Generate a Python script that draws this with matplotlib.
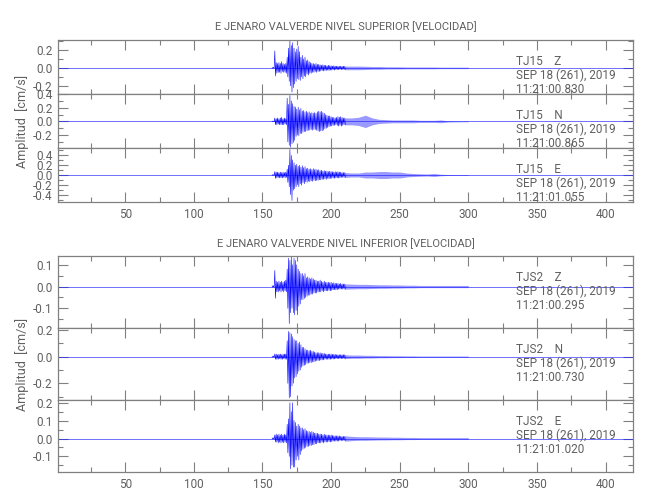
import numpy as np
import matplotlib
matplotlib.use("Agg")
import matplotlib.pyplot as plt
from matplotlib.ticker import MultipleLocator, FormatStrFormatter

plt.rcParams['font.family'] = ['Roboto', 'DejaVu Sans']
plt.rcParams['axes.unicode_minus'] = False

# time axis of the records (s)
t_fine = np.arange(157, 211)          # 1 s steps, strong motion part
t_coda = np.arange(210, 301, 5)       # 5 s steps, coda envelope
x_min, x_max = 1, 420

titles = ['E JENARO VALVERDE NIVEL SUPERIOR [VELOCIDAD]',
          'E JENARO VALVERDE NIVEL INFERIOR [VELOCIDAD]']
stations = ['TJ15', 'TJS2']
components = ['Z', 'N', 'E']
date_txt = 'SEP 18 (261), 2019'
start_times = [['11:21:00.830', '11:21:00.865', '11:21:01.055'],
               ['11:21:00.295', '11:21:00.730', '11:21:01.020']]

# ---- TJ15 (nivel superior), peak values per second (cm/s) ----
tj15_z_up = [0.005, 0.006, 0.19, 0.06, 0.05, 0.06, 0.05, 0.07, 0.05, 0.04,
             0.05, 0.12, 0.22, 0.30, 0.25, 0.28, 0.22, 0.18, 0.21, 0.24,
             0.18, 0.12, 0.14, 0.10, 0.12, 0.08, 0.09, 0.07, 0.06, 0.05,
             0.05, 0.04, 0.05, 0.04, 0.04, 0.035, 0.03, 0.035, 0.03, 0.03,
             0.025, 0.03, 0.025, 0.025, 0.02, 0.025, 0.02, 0.02, 0.02, 0.018,
             0.02, 0.018, 0.02, 0.018]
tj15_z_lo = [-0.005, -0.006, -0.09, -0.06, -0.05, -0.05, -0.06, -0.04, -0.05, -0.05,
             -0.06, -0.10, -0.15, -0.20, -0.27, -0.22, -0.18, -0.15, -0.12, -0.13,
             -0.14, -0.10, -0.12, -0.09, -0.10, -0.07, -0.08, -0.06, -0.06, -0.05,
             -0.05, -0.04, -0.05, -0.04, -0.04, -0.035, -0.03, -0.035, -0.03, -0.03,
             -0.025, -0.03, -0.025, -0.025, -0.02, -0.025, -0.02, -0.02, -0.02, -0.018,
             -0.02, -0.018, -0.02, -0.018]
tj15_z_coda = [0.02, 0.02, 0.02, 0.018, 0.015, 0.015, 0.012, 0.012, 0.012, 0.01,
               0.01, 0.01, 0.01, 0.01, 0.008, 0.008, 0.008, 0.008, 0.008]

tj15_n_up = [0.005, 0.005, 0.05, 0.04, 0.05, 0.04, 0.05, 0.06, 0.04, 0.05,
             0.04, 0.34, 0.25, 0.38, 0.30, 0.26, 0.22, 0.21, 0.18, 0.21,
             0.17, 0.19, 0.15, 0.16, 0.14, 0.15, 0.13, 0.14, 0.12, 0.13,
             0.12, 0.13, 0.12, 0.14, 0.15, 0.14, 0.15, 0.13, 0.12, 0.10,
             0.09, 0.08, 0.08, 0.07, 0.06, 0.06, 0.05, 0.06, 0.07, 0.06,
             0.07, 0.06, 0.05, 0.05]
tj15_n_lo = [-0.005, -0.005, -0.05, -0.05, -0.04, -0.05, -0.05, -0.05, -0.05, -0.04,
             -0.05, -0.30, -0.35, -0.38, -0.33, -0.31, -0.28, -0.22, -0.20, -0.21,
             -0.18, -0.18, -0.16, -0.15, -0.15, -0.14, -0.13, -0.13, -0.12, -0.13,
             -0.12, -0.12, -0.13, -0.14, -0.15, -0.14, -0.14, -0.13, -0.11, -0.10,
             -0.09, -0.08, -0.07, -0.07, -0.06, -0.06, -0.05, -0.06, -0.07, -0.06,
             -0.07, -0.06, -0.05, -0.05]
tj15_n_coda = [0.05, 0.05, 0.06, 0.09, 0.05, 0.03, 0.025, 0.02, 0.02, 0.02,
               0.02, 0.015, 0.015, 0.015, 0.02, 0.01, 0.008, 0.006, 0.006]

tj15_e_up = [0.008, 0.008, 0.07, 0.06, 0.06, 0.05, 0.06, 0.05, 0.06, 0.05,
             0.06, 0.12, 0.20, 0.52, 0.40, 0.31, 0.25, 0.20, 0.22, 0.18,
             0.20, 0.16, 0.19, 0.15, 0.17, 0.13, 0.14, 0.12, 0.13, 0.11,
             0.13, 0.11, 0.12, 0.10, 0.11, 0.09, 0.10, 0.08, 0.09, 0.08,
             0.08, 0.07, 0.08, 0.07, 0.07, 0.06, 0.07, 0.06, 0.07, 0.06,
             0.06, 0.05, 0.05, 0.05]
tj15_e_lo = [-0.008, -0.008, -0.07, -0.06, -0.05, -0.06, -0.06, -0.06, -0.05, -0.06,
             -0.05, -0.15, -0.24, -0.40, -0.52, -0.31, -0.28, -0.24, -0.20, -0.24,
             -0.18, -0.21, -0.16, -0.18, -0.14, -0.15, -0.13, -0.14, -0.12, -0.13,
             -0.11, -0.12, -0.11, -0.11, -0.10, -0.10, -0.09, -0.09, -0.08, -0.09,
             -0.07, -0.08, -0.07, -0.07, -0.06, -0.07, -0.06, -0.06, -0.06, -0.06,
             -0.05, -0.05, -0.05, -0.05]
tj15_e_coda = [0.05, 0.04, 0.04, 0.06, 0.06, 0.07, 0.07, 0.06, 0.06, 0.04,
               0.03, 0.025, 0.02, 0.03, 0.015, 0.01, 0.008, 0.008, 0.008]

# ---- TJS2 (nivel inferior) ----
tjs2_z_up = [0.004, 0.004, 0.074, 0.025, 0.02, 0.025, 0.02, 0.025, 0.02, 0.025,
             0.03, 0.08, 0.13, 0.12, 0.136, 0.10, 0.13, 0.12, 0.10, 0.08,
             0.07, 0.06, 0.06, 0.05, 0.06, 0.04, 0.045, 0.04, 0.035, 0.04,
             0.035, 0.03, 0.03, 0.025, 0.025, 0.03, 0.025, 0.02, 0.025, 0.02,
             0.02, 0.02, 0.018, 0.02, 0.015, 0.018, 0.015, 0.015, 0.015, 0.012,
             0.015, 0.012, 0.012, 0.012]
tjs2_z_lo = [-0.004, -0.004, -0.054, -0.025, -0.025, -0.02, -0.025, -0.02, -0.025, -0.02,
             -0.025, -0.10, -0.17, -0.12, -0.10, -0.12, -0.13, -0.11, -0.13, -0.09,
             -0.08, -0.06, -0.06, -0.055, -0.05, -0.045, -0.04, -0.04, -0.035, -0.035,
             -0.03, -0.03, -0.03, -0.025, -0.025, -0.025, -0.02, -0.025, -0.02, -0.02,
             -0.02, -0.018, -0.02, -0.018, -0.015, -0.015, -0.015, -0.015, -0.012, -0.012,
             -0.012, -0.012, -0.012, -0.012]
tjs2_z_coda = [0.012, 0.011, 0.01, 0.01, 0.009, 0.008, 0.008, 0.007, 0.007, 0.006,
               0.006, 0.005, 0.005, 0.005, 0.005, 0.005, 0.005, 0.005, 0.005]

tjs2_n_up = [0.004, 0.004, 0.02, 0.02, 0.015, 0.02, 0.02, 0.015, 0.02, 0.02,
             0.02, 0.12, 0.19, 0.18, 0.17, 0.15, 0.13, 0.12, 0.12, 0.10,
             0.11, 0.09, 0.07, 0.07, 0.06, 0.05, 0.05, 0.045, 0.05, 0.04,
             0.04, 0.035, 0.03, 0.03, 0.03, 0.03, 0.025, 0.025, 0.025, 0.02,
             0.02, 0.02, 0.02, 0.02, 0.018, 0.018, 0.018, 0.015, 0.015, 0.015,
             0.015, 0.015, 0.015, 0.015]
tjs2_n_lo = [-0.004, -0.004, -0.02, -0.02, -0.02, -0.015, -0.02, -0.02, -0.015, -0.02,
             -0.02, -0.20, -0.31, -0.30, -0.22, -0.20, -0.16, -0.15, -0.13, -0.11,
             -0.10, -0.08, -0.07, -0.065, -0.06, -0.05, -0.05, -0.045, -0.045, -0.04,
             -0.04, -0.035, -0.03, -0.03, -0.03, -0.025, -0.025, -0.025, -0.02, -0.02,
             -0.02, -0.02, -0.02, -0.018, -0.018, -0.018, -0.015, -0.015, -0.015, -0.015,
             -0.015, -0.015, -0.015, -0.015]
tjs2_n_coda = [0.015, 0.012, 0.012, 0.01, 0.01, 0.008, 0.008, 0.007, 0.007, 0.006,
               0.006, 0.005, 0.005, 0.005, 0.005, 0.005, 0.005, 0.005, 0.005]

tjs2_e_up = [0.004, 0.004, 0.02, 0.025, 0.02, 0.025, 0.02, 0.025, 0.02, 0.025,
             0.02, 0.08, 0.11, 0.20, 0.15, 0.20, 0.10, 0.09, 0.07, 0.08,
             0.07, 0.06, 0.06, 0.05, 0.055, 0.045, 0.04, 0.04, 0.035, 0.04,
             0.035, 0.03, 0.03, 0.03, 0.025, 0.025, 0.025, 0.02, 0.025, 0.02,
             0.02, 0.02, 0.018, 0.02, 0.018, 0.015, 0.015, 0.015, 0.015, 0.015,
             0.012, 0.012, 0.012, 0.012]
tjs2_e_lo = [-0.004, -0.004, -0.02, -0.02, -0.025, -0.02, -0.025, -0.02, -0.025, -0.02,
             -0.025, -0.08, -0.10, -0.17, -0.15, -0.16, -0.16, -0.12, -0.10, -0.12,
             -0.09, -0.07, -0.06, -0.055, -0.05, -0.045, -0.045, -0.04, -0.04, -0.035,
             -0.035, -0.03, -0.03, -0.025, -0.025, -0.025, -0.02, -0.025, -0.02, -0.02,
             -0.02, -0.018, -0.02, -0.018, -0.015, -0.015, -0.015, -0.015, -0.015, -0.012,
             -0.012, -0.012, -0.012, -0.012]
tjs2_e_coda = [0.015, 0.012, 0.01, 0.01, 0.009, 0.008, 0.008, 0.007, 0.007, 0.006,
               0.006, 0.005, 0.005, 0.005, 0.005, 0.005, 0.005, 0.005, 0.005]

traces = [[(tj15_z_up, tj15_z_lo, tj15_z_coda),
           (tj15_n_up, tj15_n_lo, tj15_n_coda),
           (tj15_e_up, tj15_e_lo, tj15_e_coda)],
          [(tjs2_z_up, tjs2_z_lo, tjs2_z_coda),
           (tjs2_n_up, tjs2_n_lo, tjs2_n_coda),
           (tjs2_e_up, tjs2_e_lo, tjs2_e_coda)]]

# y limits and tick steps (major, minor) of each panel
ylims = [[(-0.29, 0.31), (-0.39, 0.401), (-0.55, 0.55)],
         [(-0.19, 0.14), (-0.325, 0.215), (-0.187, 0.215)]]
ysteps = [[(0.2, 0.1), (0.2, 0.1), (0.2, 0.1)],
          [(0.1, 0.05), (0.2, 0.1), (0.1, 0.05)]]

txt_col = '#606060'
ax_col = '#808080'
trace_col = '#0000ff'

fig = plt.figure(figsize=(6.5, 5), dpi=100)
W, H = 650.0, 500.0
left, right = 58, 633
group_tops = [40, 256]
panel_h = [54, 72]
title_y = [27, 244]
ylabel_y = [121, 364]

for g in range(2):
    for p in range(3):
        top = group_tops[g] + p * panel_h[g]
        ax = fig.add_axes([left / W, 1 - (top + panel_h[g]) / H,
                           (right - left) / W, panel_h[g] / H])
        up, lo, coda = traces[g][p]

        # trace: flat line at rest, zig-zag between per-second peaks, coda band
        ax.plot([x_min, x_max], [0, 0], color='#2020ff', lw=0.6, alpha=0.75)
        tz = np.column_stack([t_fine, t_fine + 0.5]).ravel()
        yz = np.column_stack([up, lo]).ravel()
        ax.plot(tz, yz, color=trace_col, lw=0.4)
        ax.fill_between(t_coda, -np.array(coda), np.array(coda),
                        color=trace_col, alpha=0.4, lw=0)

        ax.set_xlim(x_min, x_max)
        ax.set_ylim(*ylims[g][p])
        ax.xaxis.set_major_locator(MultipleLocator(50))
        ax.xaxis.set_minor_locator(MultipleLocator(25))
        ax.yaxis.set_major_locator(MultipleLocator(ysteps[g][p][0]))
        ax.yaxis.set_minor_locator(MultipleLocator(ysteps[g][p][1]))
        ax.yaxis.set_major_formatter(FormatStrFormatter('%.1f'))
        ax.tick_params(which='both', direction='in', top=True, right=True,
                       color=ax_col, width=0.8, labelcolor=txt_col, labelsize=8.5)
        ax.tick_params(which='major', length=7, pad=4)
        ax.tick_params(which='minor', length=3.6)
        if p < 2:
            ax.tick_params(labelbottom=False)
        for s in ax.spines.values():
            s.set_color(ax_col)
            s.set_linewidth(0.9)

        # station / date / start time block
        lines = [stations[g] + '    ' + components[p], date_txt, start_times[g][p]]
        for k, txt in enumerate(lines):
            ax.annotate(txt, xy=(334.6, 1), xycoords=('data', 'axes fraction'),
                        xytext=(0, -15.6 - 10 * k), textcoords='offset points',
                        ha='left', va='center', fontsize=8.5, color=txt_col)

    fig.text((left + right) / 2 / W, 1 - title_y[g] / H, titles[g],
             ha='center', va='center', fontsize=8, color=txt_col)
    fig.text(22 / W, 1 - ylabel_y[g] / H, 'Amplitud  [cm/s]', rotation=90,
             ha='center', va='center', fontsize=9, color=txt_col)

fig.savefig('out.png', dpi=100)
